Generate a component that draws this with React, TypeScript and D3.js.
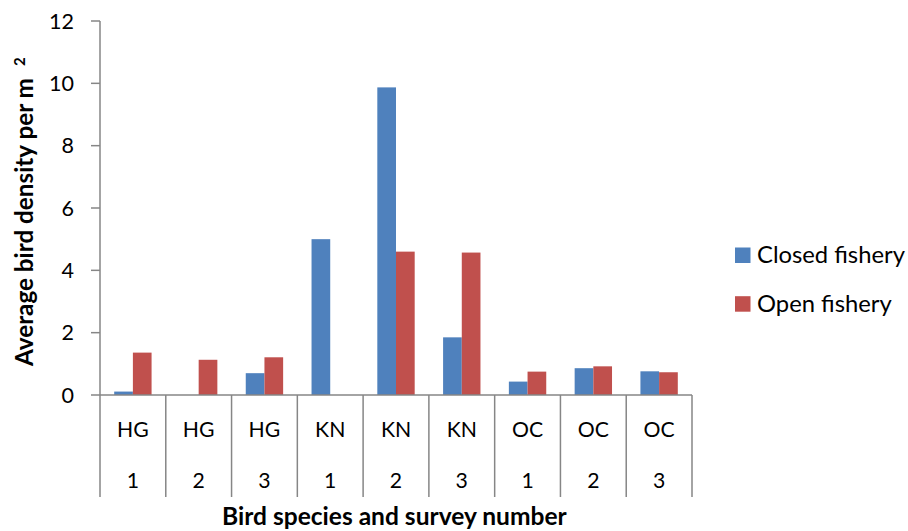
import React, { useLayoutEffect, useRef, useState } from "react";
import * as d3 from "d3";

const species = ["HG", "HG", "HG", "KN", "KN", "KN", "OC", "OC", "OC"];
const surveys = ["1", "2", "3", "1", "2", "3", "1", "2", "3"];
const seriesNames = ["Closed fishery", "Open fishery"];
const closedFishery = [0.11, 0, 0.7, 5.0, 9.87, 1.85, 0.43, 0.86, 0.76];
const openFishery = [1.36, 1.13, 1.21, 0, 4.6, 4.57, 0.75, 0.92, 0.73];
const yTicks = [0, 2, 4, 6, 8, 10, 12];
const xTitle = "Bird species and survey number";
const yTitle = "Average bird density per m";
const yTitleSup = "2";

const colors = ["#4F81BD", "#C0504D"];
const axisColor = "#868686";
const font = "Lato, sans-serif";

export default function App() {
  const W = 908, H = 531;
  const left = 100, right = 692, top = 21, bottom = 395;
  const idx = species.map((_, i) => String(i));
  const x0 = d3.scaleBand<string>().domain(idx).range([left, right]).paddingInner(0).paddingOuter(0);
  const x1 = d3.scaleBand<string>().domain(seriesNames).range([0, x0.bandwidth()]).paddingInner(0).paddingOuter(0.76);
  const y = d3.scaleLinear().domain([0, 12]).range([bottom, top]);
  const series = [closedFishery, openFishery];
  const boundaries = idx.map((d) => x0(d) as number).concat([right]);

  const base = 20;
  const [sz, setSz] = useState({ tick: base, cat: base, leg: base, xt: base, yt: base });
  const tickRef = useRef<SVGTextElement>(null);
  const catRef = useRef<SVGTextElement>(null);
  const legRef = useRef<SVGTextElement>(null);
  const xtRef = useRef<SVGTextElement>(null);
  const ytRef = useRef<SVGTextElement>(null);
  const [ytLen, setYtLen] = useState(288);

  useLayoutEffect(() => {
    const fit = (el: SVGTextElement | null, target: number) =>
      el ? (base * target) / el.getComputedTextLength() : base;
    const ns = {
      tick: fit(tickRef.current, 25),
      cat: fit(catRef.current, 31.7),
      leg: fit(legRef.current, 148),
      xt: fit(xtRef.current, 345),
      yt: fit(ytRef.current, 288),
    };
    setSz(ns);
    setYtLen(288);
  }, []);

  const yTitleStart = 366;

  return (
    <svg width={W} height={H} style={{ position: "absolute", left: 0, top: 0, background: "#fff" }}>
      <rect x={0} y={0} width={W} height={H} fill="#fff" />
      {series.map((vals, si) =>
        vals.map((v, i) =>
          v > 0 ? (
            <rect
              key={`b${si}-${i}`}
              x={(x0(String(i)) as number) + (x1(seriesNames[si]) as number)}
              y={y(v)}
              width={x1.bandwidth()}
              height={y(0) - y(v)}
              fill={colors[si]}
            />
          ) : null
        )
      )}
      <line x1={left} x2={left} y1={top} y2={bottom} stroke={axisColor} strokeWidth={1.5} />
      {yTicks.map((t) => (
        <g key={`t${t}`}>
          <line x1={left - 9} x2={left} y1={y(t)} y2={y(t)} stroke={axisColor} strokeWidth={1.5} />
          <text
            ref={t === 12 ? tickRef : undefined}
            x={74}
            y={y(t)}
            dy="0.36em"
            textAnchor="end"
            fontFamily={font}
            fontSize={sz.tick}
            fill="#000"
          >
            {t}
          </text>
        </g>
      ))}
      <line x1={left} x2={right} y1={bottom} y2={bottom} stroke={axisColor} strokeWidth={1.5} />
      {boundaries.map((b, i) => (
        <line key={`d${i}`} x1={b} x2={b} y1={bottom} y2={497} stroke={axisColor} strokeWidth={1.5} />
      ))}
      {idx.map((d, i) => {
        const cx = (x0(d) as number) + x0.bandwidth() / 2;
        return (
          <g key={`l${i}`}>
            <text
              ref={i === 0 ? catRef : undefined}
              x={cx}
              y={429.3}
              dy="0.36em"
              textAnchor="middle"
              fontFamily={font}
              fontSize={sz.cat}
              fill="#000"
            >
              {species[i]}
            </text>
            <text x={cx} y={480.7} dy="0.36em" textAnchor="middle" fontFamily={font} fontSize={sz.cat} fill="#000">
              {surveys[i]}
            </text>
          </g>
        );
      })}
      <text
        ref={xtRef}
        x={222}
        y={525}
        textAnchor="start"
        fontFamily={font}
        fontSize={sz.xt}
        fontWeight="bold"
        fill="#000"
      >
        {xTitle}
      </text>
      <text
        ref={ytRef}
        transform={`translate(33,${yTitleStart}) rotate(-90)`}
        textAnchor="start"
        fontFamily={font}
        fontSize={sz.yt}
        fontWeight="bold"
        fill="#000"
      >
        {yTitle}
      </text>
      <text
        transform={`translate(25,${yTitleStart - ytLen - 12}) rotate(-90)`}
        textAnchor="start"
        fontFamily={font}
        fontSize={sz.yt * 0.62}
        fontWeight="bold"
        fill="#000"
      >
        {yTitleSup}
      </text>
      {seriesNames.map((s, i) => (
        <g key={`lg${i}`}>
          <rect x={735} y={247.5 + i * 48.7} width={15.5} height={15.5} fill={colors[i]} />
          <text
            ref={i === 0 ? legRef : undefined}
            x={757}
            y={263 + i * 48.7}
            fontFamily={font}
            fontSize={sz.leg}
            fill="#000"
          >
            {s}
          </text>
        </g>
      ))}
    </svg>
  );
}
